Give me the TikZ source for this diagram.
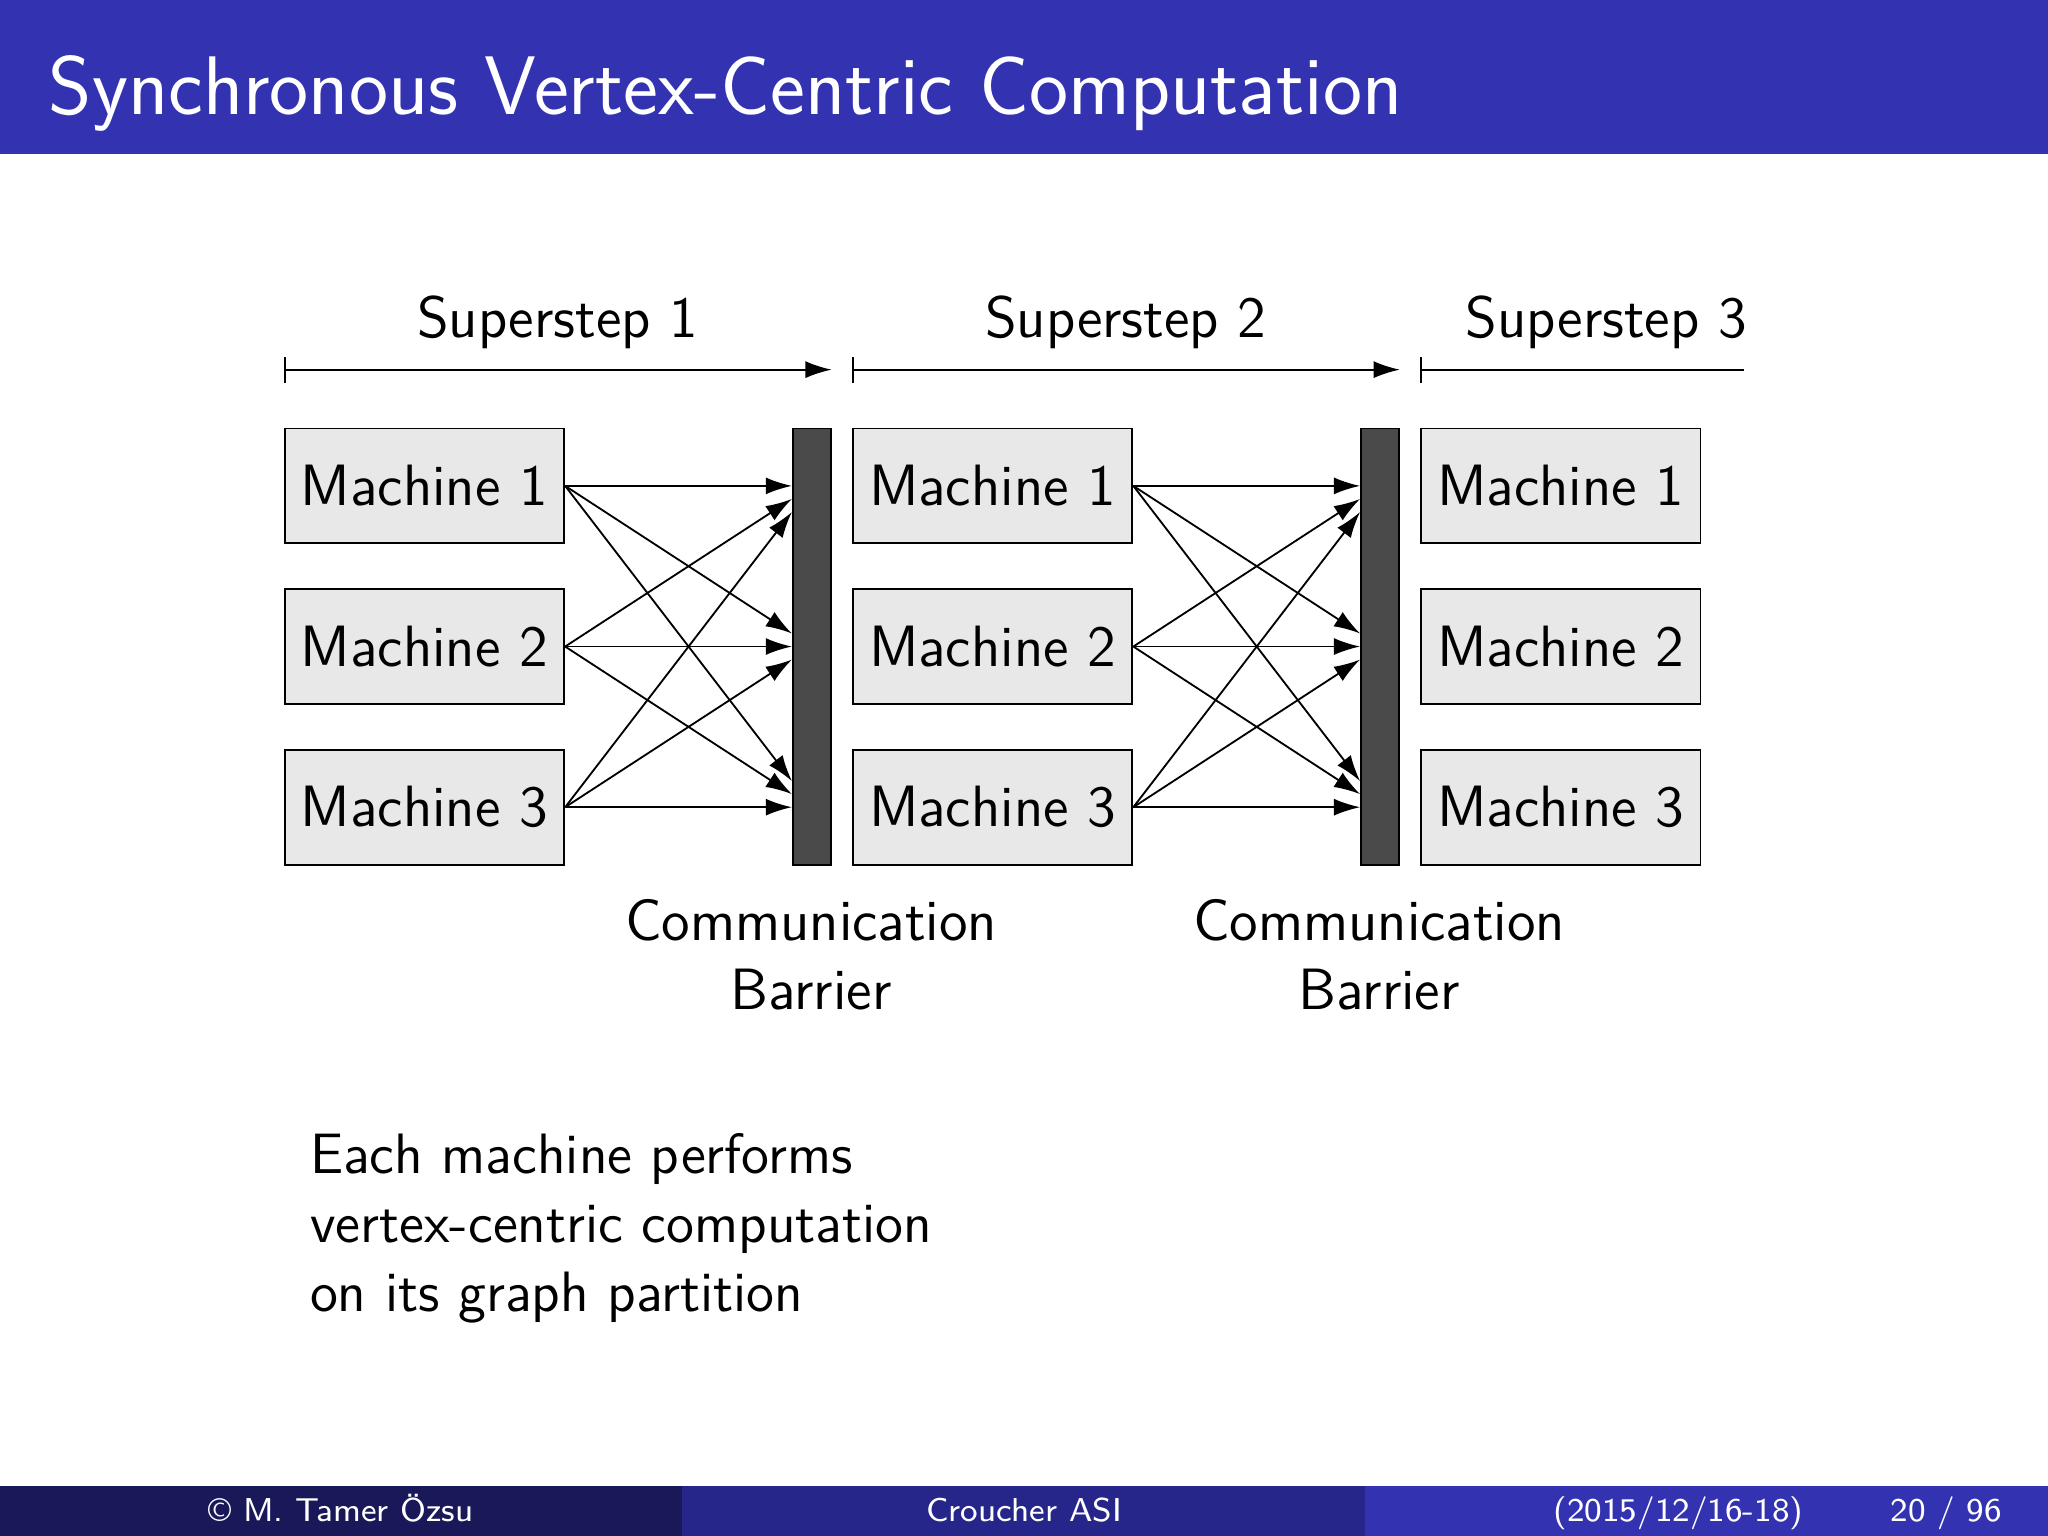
\documentclass[tikz,border=0pt]{standalone}
\renewcommand{\familydefault}{\sfdefault}
\usepackage{tikz}
\usetikzlibrary{arrows.meta,calc}
\definecolor{bartitle}{HTML}{3333B2}
\definecolor{barmid}{HTML}{26268A}
\definecolor{bardark}{HTML}{191959}
\definecolor{barrier}{HTML}{4A4A4A}
\tikzset{
	machine/.style={draw, fill=gray!18, minimum width=21.4mm, minimum height=8.8mm, inner sep=0pt, font=\fontsize{12.7}{15.1}\selectfont},
	wall/.style={draw, fill=barrier, minimum width=2.9mm, minimum height=33.4mm, inner sep=0pt},
	msg/.style={-{Latex[length=2mm,width=1.3mm]}, thin},
	lbl/.style={font=\fontsize{12.7}{15.1}\selectfont, align=center},
	foot/.style={font=\fontsize{7.2}{9}\selectfont, text=white}
}
\begin{document}
\begin{tikzpicture}[x=0.1mm, y=-0.1mm]
		\useasboundingbox (0,0) rectangle (1568,1176);
		% title and footer bars
		\fill[bartitle] (0,0) rectangle (1568,118);
		\node[anchor=base west, text=white, font=\fontsize{18.1}{22}\selectfont] (title) at (25,88) {Synchronous Vertex-Centric Computation};
		\fill[bardark] (0,1138) rectangle (522,1176);
		\fill[barmid] (522,1138) rectangle (1045,1176);
		\fill[bartitle] (1045,1138) rectangle (1568,1176);
		\node[foot, anchor=base] (fauthor) at (261,1165) {\textcopyright\ M. Tamer \"Ozsu};
		\node[foot, anchor=base] (fevent) at (784,1165) {Croucher ASI};
		\node[foot, anchor=base east] (fdate) at (1393,1165) {(2015/12/16-18)};
		\node[foot, anchor=base east] (fpage) at (1545,1165) {20 / 96};
		
		% machines
		\foreach \c/\x in {1/325, 2/760, 3/1195}
			\foreach \r/\y in {1/372, 2/495, 3/618}
				\node[machine] (m\c\r) at (\x,\y) {Machine \r};
		
		% barriers
		\node[wall] (b1) at (621.5,495) {};
		\node[wall] (b2) at (1056.5,495) {};
		
		% messages
		\foreach \c/\b in {1/1, 2/2}
			\foreach \s in {1,2,3}
				\foreach \t in {1,2,3} {
					\coordinate (t\c\s\t) at ($(b\b.west |- m\c\t.east)+(0,{(\s-\t)*10})$);
					\draw[msg] (m\c\s.east) -- (t\c\s\t);
				}
		
		% supersteps
		\draw[{Bar[width=2mm]}-{Latex[length=2mm,width=1.3mm]}] (m11.north west |- 0,283) coordinate (s1) -- (b1.north east |- 0,283) coordinate (e1);
		\draw[{Bar[width=2mm]}-{Latex[length=2mm,width=1.3mm]}] (m21.north west |- 0,283) coordinate (s2) -- (b2.north east |- 0,283) coordinate (e2);
		\draw[{Bar[width=2mm]}-] (m31.north west |- 0,283) coordinate (s3) -- (1335,283) coordinate (e3);
		\node[lbl] (step1) at (427,247) {Superstep 1};
		\node[lbl] (step2) at (862,247) {Superstep 2};
		\node[lbl] (step3) at (1230,247) {Superstep 3};
		
		\node[lbl] (cb1) at (621,731) {Communication\\Barrier};
		\node[lbl] (cb2) at (1056,731) {Communication\\Barrier};
		
		\node[lbl, anchor=north west, align=left, font=\fontsize{12.4}{15.1}\selectfont] (note) at (225,855) {Each machine performs\\vertex-centric computation\\on its graph partition};
\end{tikzpicture}
\end{document}
